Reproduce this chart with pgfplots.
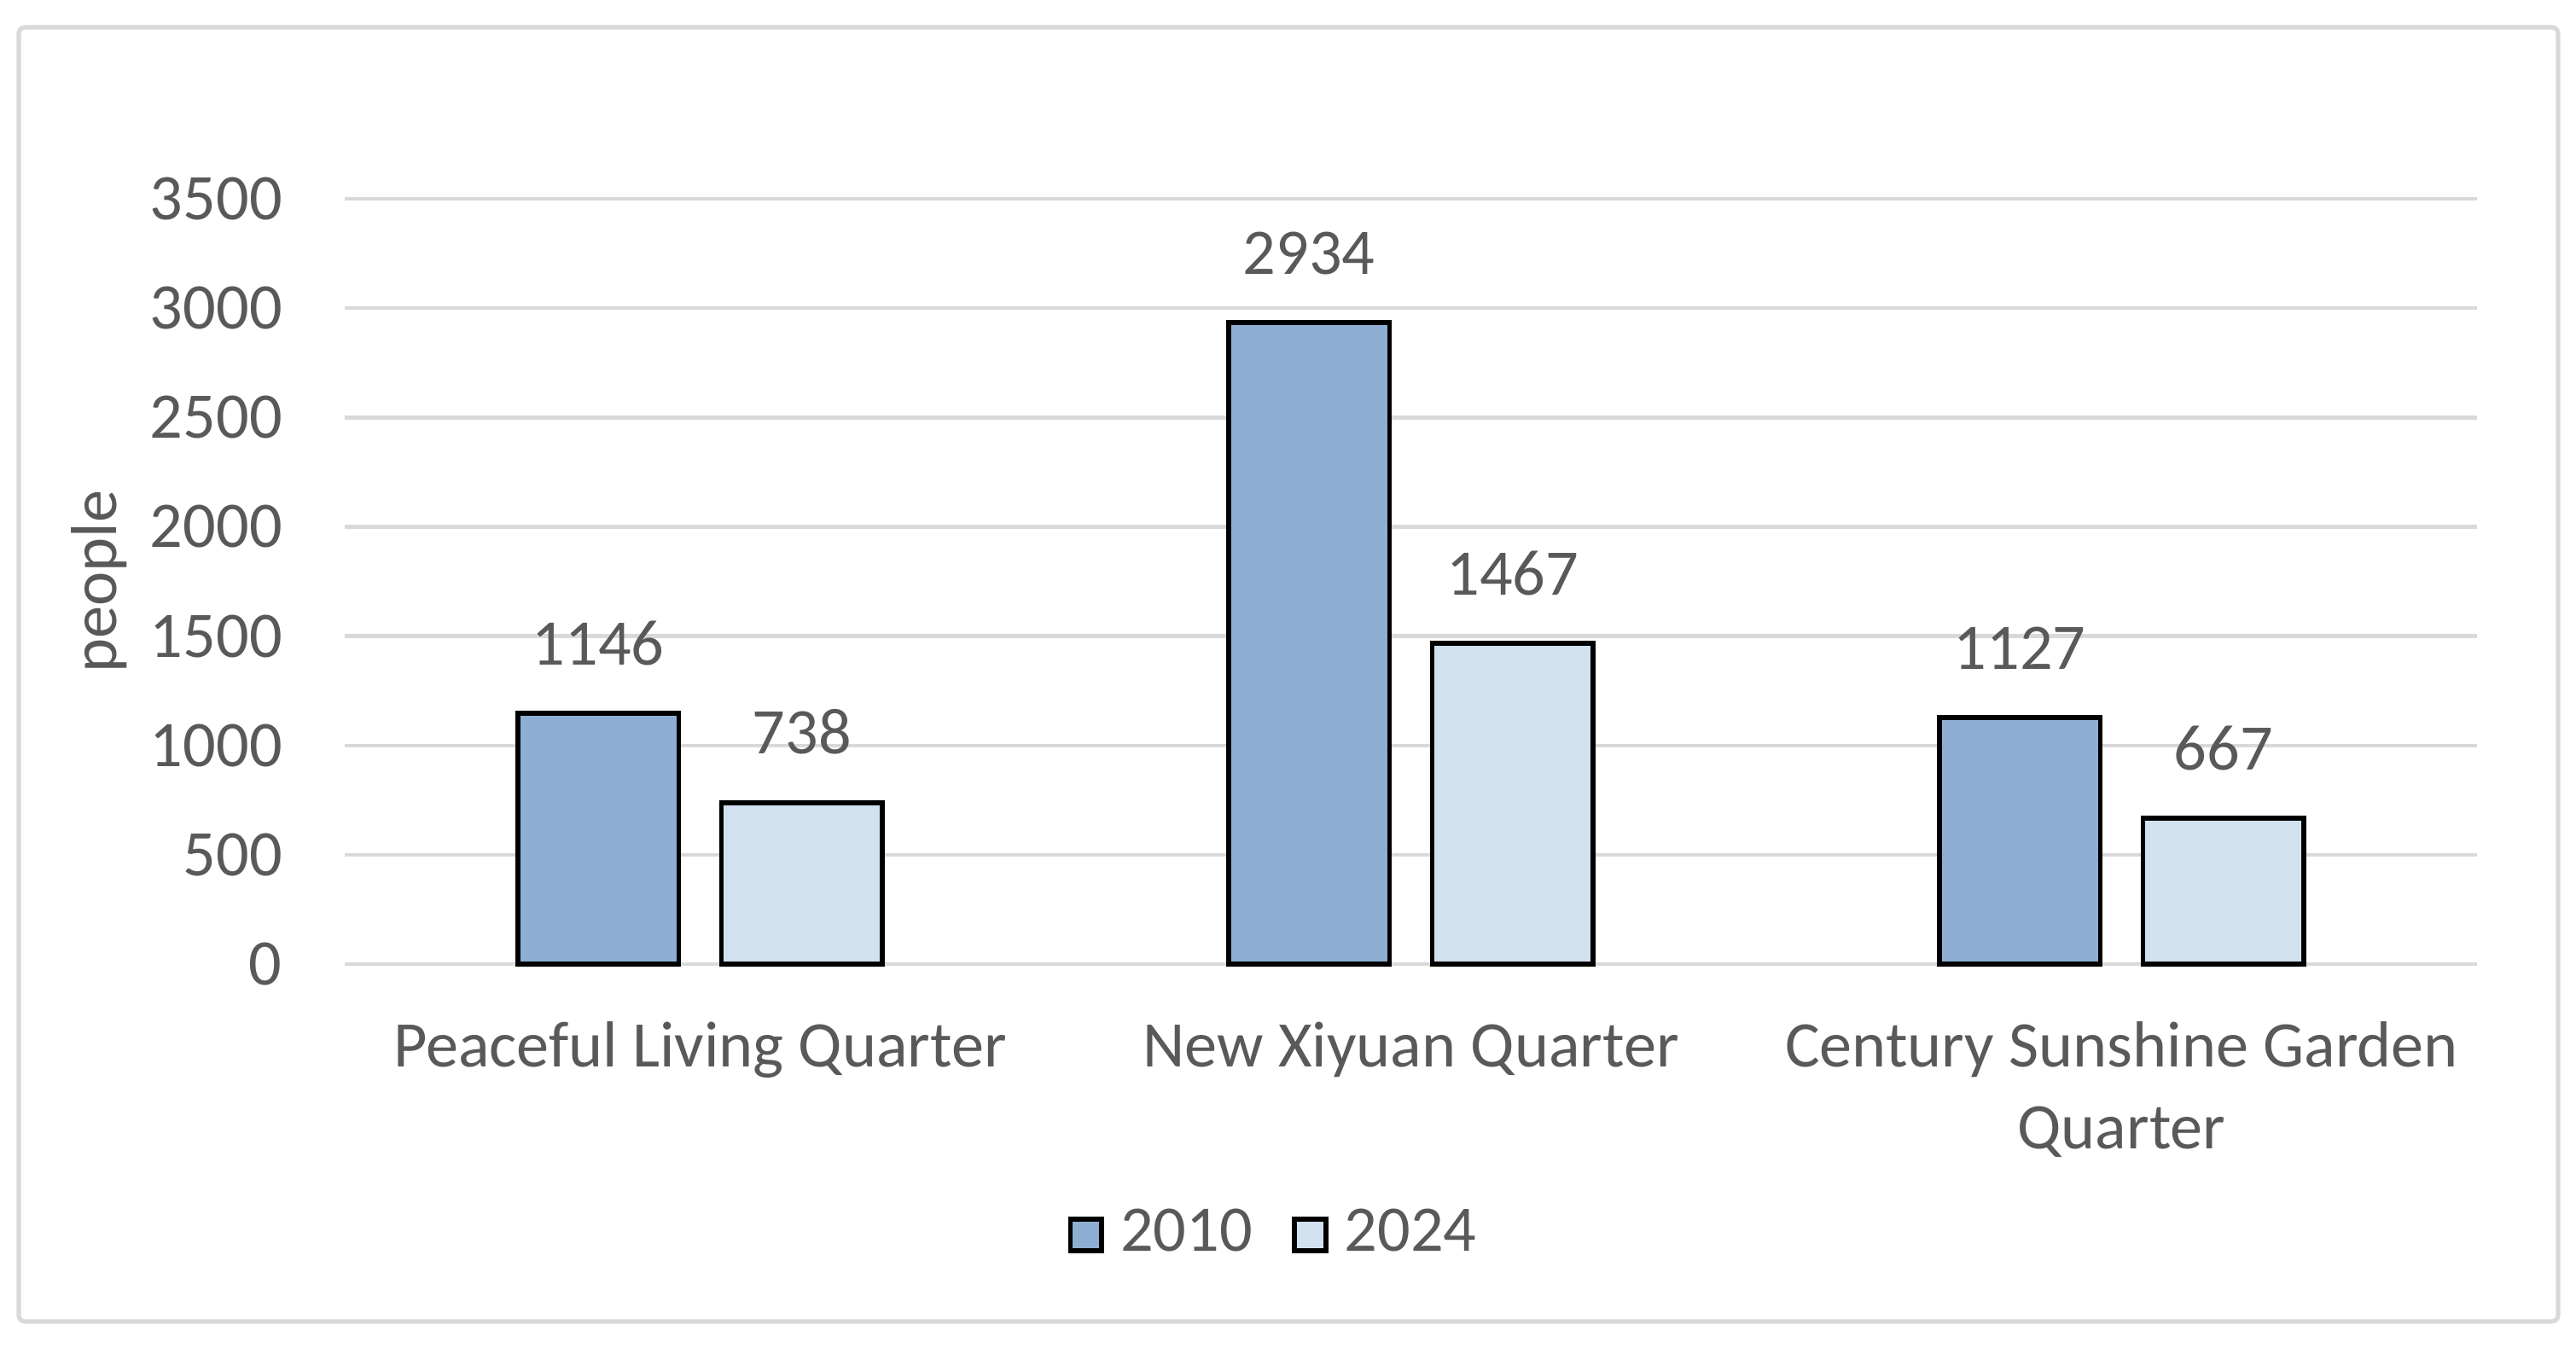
\documentclass[border=0pt]{standalone}
\usepackage{fontspec}
\setmainfont{Carlito}
\usepackage{pgfplots}
\pgfplotsset{compat=1.18}
\definecolor{txt}{HTML}{595959}
\definecolor{gridc}{HTML}{D9D9D9}
\definecolor{bA}{HTML}{8EAFD3}
\definecolor{bB}{HTML}{D2E1F0}
\newcommand{\ff}{\fontsize{10.3}{12.9}\selectfont}
\begin{document}
\begin{tikzpicture}[font=\ff]
\path[use as bounding box] (0pt,0pt) rectangle (407.565pt,213.165pt);
\fill[white] (0pt,0pt) rectangle (407.565pt,213.165pt);
\draw[gridc, line width=0.7pt, rounded corners=1pt] (2.97pt,4.05pt) rectangle (404.73pt,208.845pt);
\begin{axis}[
  at={(54.54pt,60.615pt)}, anchor=south west, scale only axis,
  width=337.365pt, height=121.095pt,
  xmin=-0.5, xmax=2.5, ymin=0, ymax=3500,
  ybar=6.75pt, bar width=25.5pt,
  axis line style={draw=none},
  major tick length=0pt,
  ytick={0,500,...,3500},
  xtick={0,1,2},
  xticklabels={\strut Peaceful Living Quarter, \strut New Xiyuan Quarter, {\strut Century Sunshine Garden\\Quarter}},
  ymajorgrids, major grid style={gridc, line width=0.6pt},
  ticklabel style={text=txt, font=\ff},
  yticklabel style={anchor=east, inner sep=0pt, xshift=-9.7pt},
  xticklabel style={anchor=north, inner sep=0pt, yshift=-7.1pt, align=center},
  /pgf/number format/.cd, 1000 sep={}, assume math mode=true, /pgfplots/.cd,
  ylabel={people},
  ylabel style={at={(axis description cs:-0.1152,0.5)}, anchor=center, text=txt, font=\ff},
  nodes near coords,
  every node near coord/.append style={anchor=base, inner sep=0pt, yshift=7.7pt, text=txt, font=\ff},
  clip=false,
  legend columns=2,
  legend style={at={(axis description cs:0.435,-0.354)}, anchor=center, draw=none, fill=none, inner sep=0pt,
    nodes={inner sep=0pt, text=txt, font=\ff},
    /tikz/every odd column/.append style={column sep=2.6pt},
    /tikz/every even column/.append style={column sep=6.3pt}},
  legend image code/.code={\draw[#1, line width=0.8pt] (0pt,-2.55pt) rectangle (4.9pt,2.55pt);},
]
\addplot[fill=bA, draw=black, line width=0.8pt] coordinates {(0,1146) (1,2934) (2,1127)};
\addplot[fill=bB, draw=black, line width=0.8pt] coordinates {(0,738) (1,1467) (2,667)};
\legend{2010, 2024}
\end{axis}
\end{tikzpicture}
\end{document}
